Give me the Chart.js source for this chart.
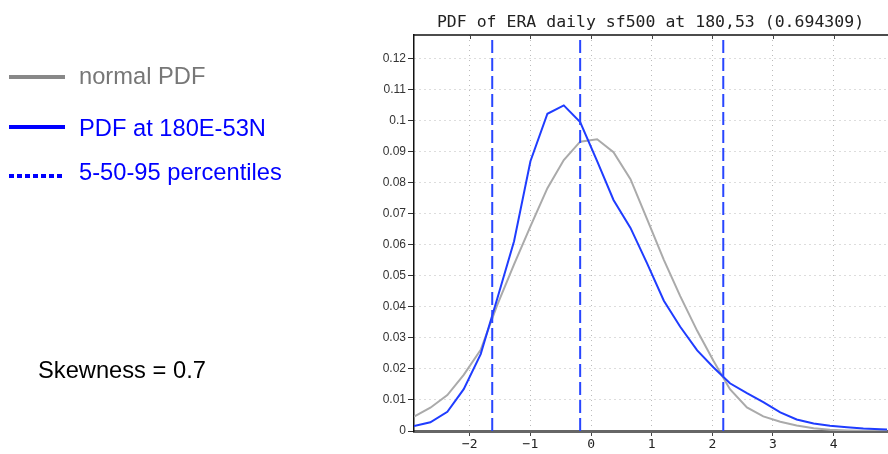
<!DOCTYPE html>
<html>
<head>
<meta charset="utf-8">
<script src="https://cdn.jsdelivr.net/npm/chart.js@4.4.1/dist/chart.umd.min.js"></script>
<style>
  body { margin: 0; background: #fff; }
  #wrap { position: relative; width: 888px; height: 454px; overflow: hidden; }
  #chart { position: absolute; left: 0; top: 0; }
  .txt { position: absolute; font-family: 'Liberation Sans', Arial, sans-serif; font-size: 23.7px; line-height: 23px; white-space: nowrap; }
  .swatch { position: absolute; left: 9px; width: 56px; height: 4px; }
</style>
</head>
<body>
<div id="wrap">
  <canvas id="chart" width="888" height="454"></canvas>

  <div class="swatch" style="top:75px; background:#888;"></div>
  <div class="txt" style="left:79px; top:65px; color:#777;">normal PDF</div>

  <div class="swatch" style="top:125px; background:#0000ff;"></div>
  <div class="txt" style="left:79px; top:117px; color:#0000ff;">PDF at 180E-53N</div>

  <div class="swatch" style="top:174px; width:53px; background:repeating-linear-gradient(90deg, #0000ff 0 5px, transparent 5px 8px);"></div>
  <div class="txt" style="left:79px; top:161px; color:#0000ff;">5-50-95 percentiles</div>

  <div class="txt" style="left:38px; top:359px; color:#000;">Skewness = 0.7</div>
</div>

<script>
// x positions of the PDF bins
const X_GRID = [-2.92, -2.65, -2.37, -2.10, -1.82, -1.55, -1.27, -1.00, -0.72, -0.45,
                -0.18, 0.10, 0.37, 0.65, 0.92, 1.20, 1.47, 1.75, 2.02, 2.29,
                2.57, 2.84, 3.12, 3.39, 3.67, 3.94, 4.22, 4.49, 4.77, 5.04];

// PDF at 180E-53N (blue)
const PDF_POINT = [0.0016, 0.0028, 0.0062, 0.0135, 0.0248, 0.0425, 0.0612, 0.0870, 0.1023, 0.1050,
                   0.0996, 0.0870, 0.0745, 0.0655, 0.0542, 0.0420, 0.0336, 0.0260, 0.0205, 0.0154,
                   0.0122, 0.0093, 0.0060, 0.0037, 0.0024, 0.0017, 0.0012, 0.0008, 0.0006, 0.0004];

// normal PDF (grey)
const PDF_NORMAL = [0.0046, 0.0075, 0.0116, 0.0181, 0.0262, 0.0405, 0.0537, 0.0660, 0.0783, 0.0874,
                    0.0933, 0.0941, 0.0899, 0.0812, 0.0685, 0.0552, 0.0435, 0.0323, 0.0226, 0.0135,
                    0.0076, 0.0047, 0.0030, 0.0018, 0.0009, 0.0004, 0.0002, 0.0001, 0.00005, 0.0];

// 5-50-95 percentiles
const PERCENTILES = [-1.63, -0.18, 2.18];

const X_TICKS = [-2, -1, 0, 1, 2, 3, 4];
const Y_TICKS = [0, 0.01, 0.02, 0.03, 0.04, 0.05, 0.06, 0.07, 0.08, 0.09, 0.1, 0.11, 0.12];

const X_MIN = -2.92, X_MAX = 4.88;
const Y_MIN = 0, Y_MAX = 0.1277;

const toXY = (ys) => X_GRID.map((x, i) => ({ x: x, y: ys[i] }));

const datasets = [
  {
    label: 'normal PDF',
    data: toXY(PDF_NORMAL),
    borderColor: '#aaaaaa',
    borderWidth: 2,
    pointRadius: 0,
    tension: 0,
    order: 2
  },
  {
    label: 'PDF at 180E-53N',
    data: toXY(PDF_POINT),
    borderColor: '#1f3cff',
    borderWidth: 2,
    pointRadius: 0,
    tension: 0,
    order: 1
  }
];

PERCENTILES.forEach(p => {
  datasets.push({
    label: 'percentile',
    data: [{ x: p, y: Y_MIN }, { x: p, y: Y_MAX }],
    borderColor: '#2846ff',
    borderWidth: 2,
    borderDash: [13, 5],
    pointRadius: 0,
    order: 0
  });
});

// top frame line with small ticks
const frameTop = {
  id: 'frameTop',
  afterDraw(chart) {
    const { ctx, chartArea } = chart;
    const xs = chart.scales.x;
    ctx.save();
    ctx.strokeStyle = '#111';
    ctx.lineWidth = 1.5;
    ctx.beginPath();
    ctx.moveTo(chartArea.left, chartArea.top);
    ctx.lineTo(chartArea.right + 2, chartArea.top);
    ctx.stroke();
    ctx.lineWidth = 1;
    ctx.strokeStyle = '#444';
    X_TICKS.forEach(v => {
      const px = Math.round(xs.getPixelForValue(v)) + 0.5;
      ctx.beginPath();
      ctx.moveTo(px, chartArea.top);
      ctx.lineTo(px, chartArea.top + 4);
      ctx.stroke();
    });
    ctx.restore();
  }
};

new Chart(document.getElementById('chart').getContext('2d'), {
  type: 'line',
  data: { datasets: datasets },
  plugins: [frameTop],
  options: {
    responsive: false,
    animation: false,
    devicePixelRatio: 1,
    layout: { padding: { top: 0, right: 1, left: 0, bottom: 0 } },
    plugins: {
      legend: { display: false },
      tooltip: { enabled: false },
      title: {
        display: true,
        text: 'PDF of ERA daily sf500 at 180,53 (0.694309)',
        fullSize: false,
        color: '#222',
        font: { family: 'DejaVu Sans Mono', size: 16.5, weight: 'normal' },
        padding: { top: 13, bottom: 2.2 }
      }
    },
    scales: {
      x: {
        type: 'linear',
        min: X_MIN,
        max: X_MAX,
        afterBuildTicks: s => { s.ticks = X_TICKS.map(v => ({ value: v })); },
        afterFit: s => { s.height = 23; },
        ticks: {
          autoSkip: false,
          maxRotation: 0,
          padding: 1,
          color: '#222',
          font: { family: 'DejaVu Sans Mono', size: 13 },
          callback: v => (v < 0 ? '\u2212' + Math.abs(v) : String(v))
        },
        grid: { color: '#bbbbbb', lineWidth: 1, tickLength: 5, tickColor: '#444', tickWidth: 1 },
        border: { color: '#666', width: 3, dash: [1, 4] }
      },
      y: {
        min: Y_MIN,
        max: Y_MAX,
        afterBuildTicks: s => { s.ticks = Y_TICKS.map(v => ({ value: v })); },
        afterFit: s => { s.width = 414; },
        ticks: {
          autoSkip: false,
          padding: 2,
          color: '#333',
          font: { family: 'Liberation Sans', size: 12 },
          callback: v => String(Math.round(v * 100) / 100)
        },
        grid: { color: '#bbbbbb', lineWidth: 1, tickLength: 6, tickColor: '#333', tickWidth: 1 },
        border: { color: '#111', width: 1.5, dash: [1, 4] }
      }
    }
  }
});
</script>
</body>
</html>
